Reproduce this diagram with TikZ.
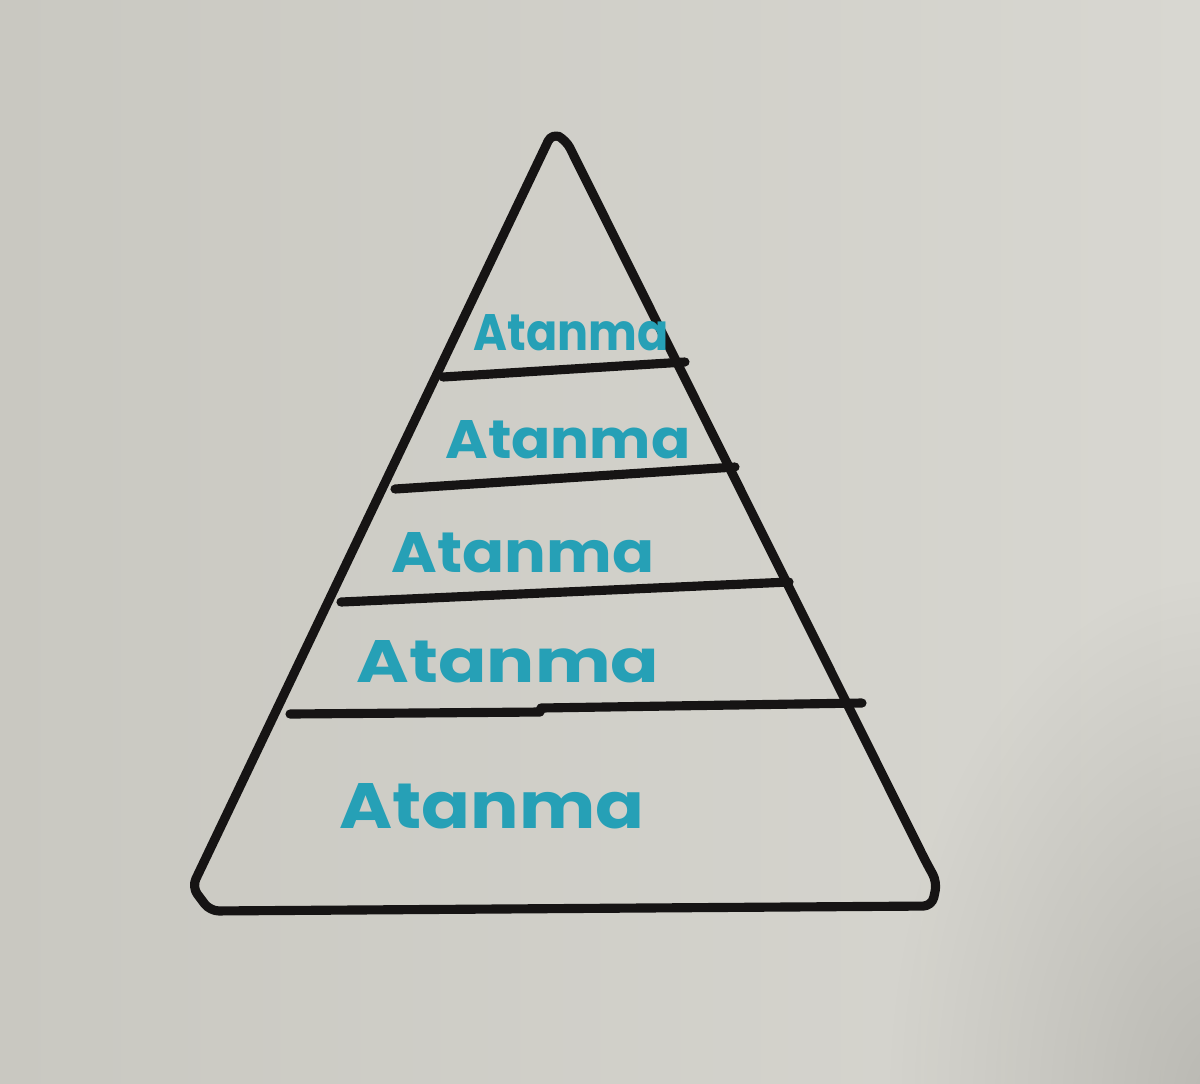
\documentclass[tikz,border=0pt]{standalone}
\usepackage{fontspec}
\setmainfont{Poppins}
\usetikzlibrary{fadings}
\tikzfading[name=softspot, inner color=transparent!0, outer color=transparent!100]
\definecolor{paper}{RGB}{201,200,193}
\definecolor{paperlight}{RGB}{216,215,209}
\definecolor{shadow}{RGB}{178,177,171}
\definecolor{ink}{RGB}{22,20,20}
\definecolor{marker}{RGB}{38,160,182}
\tikzset{
  inkline/.style={draw=ink, line width=5.2pt, line cap=round, line join=round},
  label/.style={inner sep=0pt, text=marker, anchor=center, font=\bfseries}
}
\newcommand{\wordbox}[2]{\resizebox{#1}{#2}{Atanma}}
\begin{document}
\begin{tikzpicture}[x=0.02cm, y=-0.02cm]
  \useasboundingbox (0,0) rectangle (1200,1083);
  % paper
  \shade[left color=paper, right color=paperlight] (0,0) rectangle (1200,1083);
  \begin{scope}
    \clip (0,0) rectangle (1200,1083);
    \fill[shadow, path fading=softspot, fit fading=true, opacity=0.8] (1220,1100) ellipse (330 and 520);
  \end{scope}
  % pyramid outline
  \draw[inkline, rounded corners=5pt]
    (210,911) -- (192,887) -- (552,133) -- (566,140) -- (926,862) -- (937,882) -- (932,906) -- cycle;
  % layer lines
  \draw[inkline] (443,377) -- (685,362);
  \draw[inkline] (395,489) -- (735,467);
  \draw[inkline] (341,602) -- (789,582);
  \draw[inkline] (290,714) -- (540,712) -- (541,708) -- (862,703);
  % labels
  \node[label] (t1) at (571,333) {\wordbox{3.9cm}{0.72cm}};
  \node[label] (t2) at (568,440) {\wordbox{4.9cm}{0.76cm}};
  \node[label] (t3) at (523,553) {\wordbox{5.25cm}{0.8cm}};
  \node[label] (t4) at (508,662) {\wordbox{6.05cm}{0.84cm}};
  \node[label] (t5) at (492,806) {\wordbox{6.1cm}{0.9cm}};
\end{tikzpicture}
\end{document}
